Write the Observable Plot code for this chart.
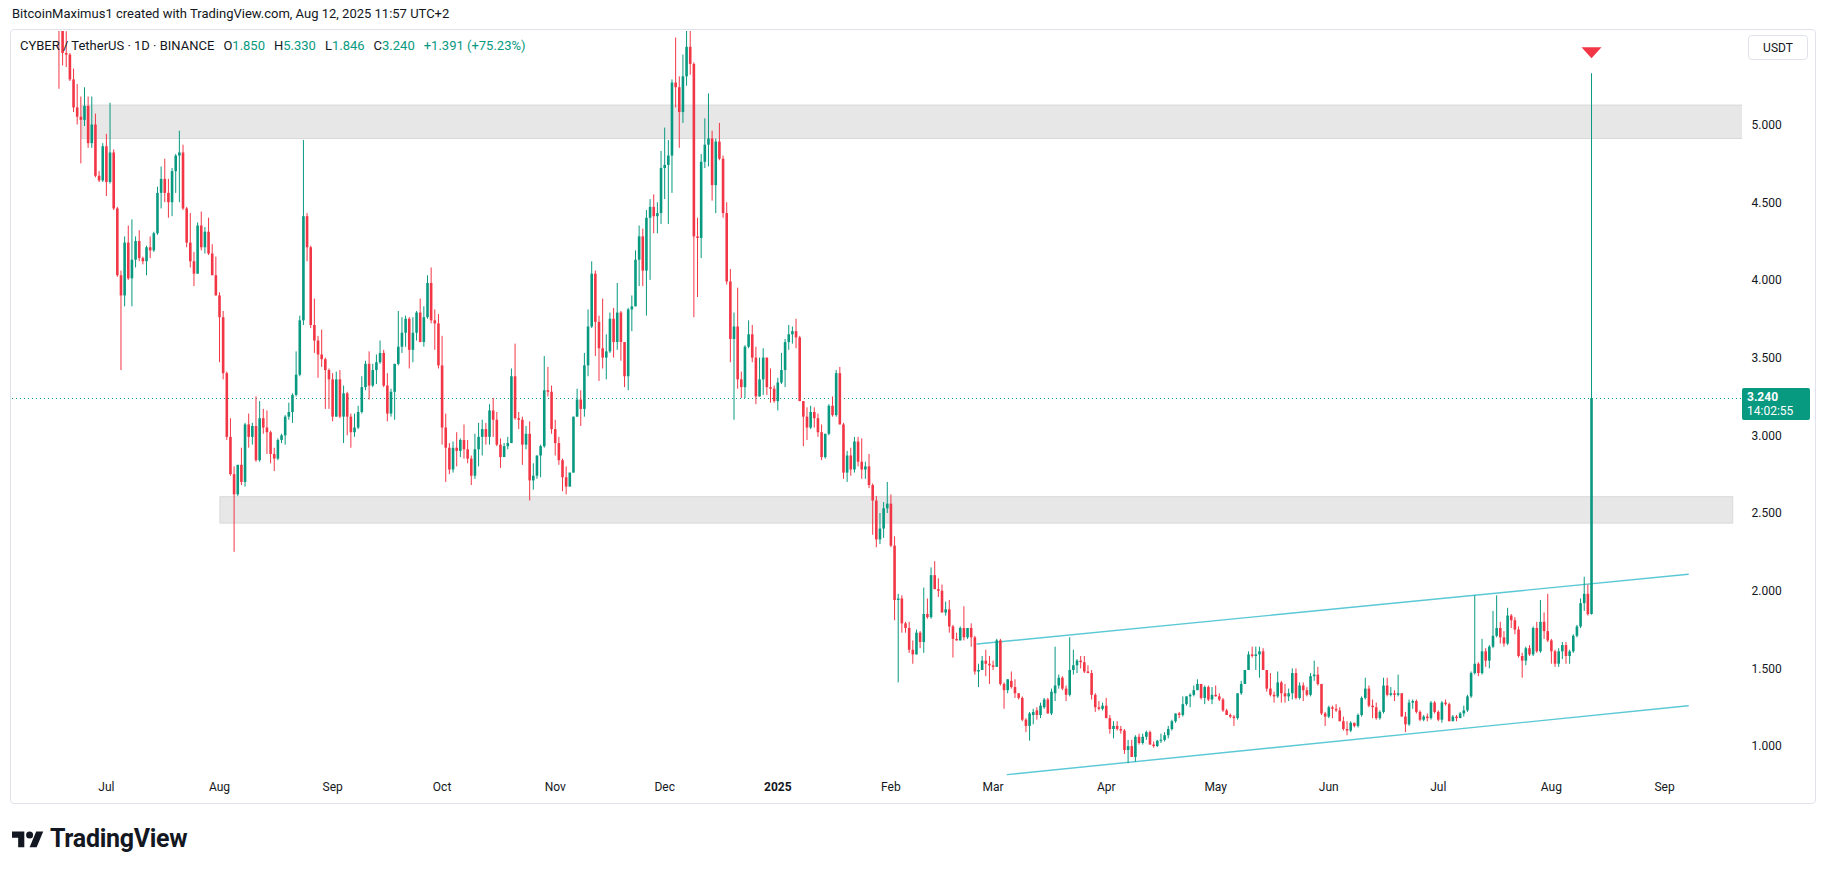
<!DOCTYPE html>
<html><head><meta charset="utf-8">
<script src="https://cdn.jsdelivr.net/npm/d3@7"></script>
<script src="https://cdn.jsdelivr.net/npm/@observablehq/plot@0.6"></script>
<style>
body{margin:0;background:#fff;font-family:Roboto,"Noto Sans",sans-serif;color:#131722;}
#wrap{position:relative;width:1825px;height:871px;overflow:hidden;background:#fff;}
#chart{position:absolute;left:0;top:0;}
.ov{position:absolute;white-space:nowrap;}
#pane{left:10px;top:29px;width:1804px;height:773px;border:1px solid #e0e3eb;border-radius:4px;pointer-events:none;}
#credit{left:12px;top:6px;font-size:13px;}
#legend{left:20px;top:38px;font-size:13px;}
#legend .v{color:#089981;}
#legend .g{margin-left:9px;}
#usdt{left:1748px;top:35px;width:60px;height:25px;border:1px solid #e0e3eb;border-radius:4px;font-size:12px;text-align:center;line-height:25px;box-sizing:border-box;}
#plabel{left:1742px;width:68px;background:#089981;color:#fff;font-size:12px;border-radius:2px;padding:2px 0 2px 5px;box-sizing:border-box;line-height:14px;}
#logo{left:12px;top:825px;}
</style></head><body>
<div id="wrap">
  <div id="chart"></div>
  <div id="pane" class="ov"></div>
  <div id="credit" class="ov">BitcoinMaximus1 created with TradingView.com, Aug 12, 2025 11:57 UTC+2</div>
  <div id="legend" class="ov">CYBER / TetherUS · 1D · BINANCE<span class="g">O<span class="v">1.850</span></span><span class="g">H<span class="v">5.330</span></span><span class="g">L<span class="v">1.846</span></span><span class="g">C<span class="v">3.240</span></span><span class="g v">+1.391 (+75.23%)</span></div>
  <div id="usdt" class="ov">USDT</div>
  <div id="plabel" class="ov"><b>3.240</b><br>14:02:55</div>
  <div id="logo" class="ov">
    <svg width="210" height="28" viewBox="0 0 210 28">
      <g transform="translate(0,3) scale(0.88)" fill="#131722">
        <path d="M14 22H7V11H0V4h14v18z"/>
        <circle cx="20" cy="8" r="4"/>
        <path d="M28 22h-8l7.5-18h8L28 22z"/>
      </g>
      <text x="38" y="22" font-family="Roboto, sans-serif" font-weight="700" font-size="25" fill="#131722" letter-spacing="-0.3">TradingView</text>
    </svg>
  </div>
</div>
<script>
// ---- data (daily candles, CYBER/USDT, Binance) ----
const startDate = "2024-06-18";
const opens = [
6.00,5.72,5.46,5.45,5.29,5.11,5.05,5.03,5.12,4.88,
5.00,4.67,4.64,4.86,4.63,4.82,4.46,4.03,3.90,4.24,
4.01,4.13,4.25,4.14,4.12,4.21,4.19,4.30,4.56,4.65,
4.56,4.50,4.70,4.80,4.82,4.46,4.24,4.12,4.04,4.35,
4.21,4.31,4.17,4.03,3.90,3.76,3.40,2.99,2.75,2.62,
2.81,2.70,3.07,2.99,3.06,2.84,3.11,3.05,3.02,2.88,
2.85,2.97,3.00,3.12,3.15,3.26,3.39,3.74,4.41,4.21,
3.71,3.61,3.52,3.49,3.42,3.36,3.12,3.36,3.12,3.27,
3.12,3.02,3.05,3.15,3.31,3.46,3.32,3.42,3.47,3.53,
3.32,3.14,3.28,3.46,3.57,3.66,3.75,3.55,3.66,3.79,
3.60,3.76,3.98,3.74,3.72,3.45,3.05,2.92,2.78,2.92,
2.90,2.97,2.91,2.85,2.74,2.91,2.99,3.04,2.99,3.16,
3.10,2.94,2.86,2.93,2.95,3.38,3.11,3.10,2.94,3.01,
2.71,2.74,2.87,2.93,3.29,3.28,3.04,2.95,2.84,2.73,
2.67,2.76,3.12,3.23,3.17,3.45,3.70,4.04,3.73,3.56,
3.50,3.54,3.75,3.60,3.79,3.60,3.38,3.81,3.83,4.13,
4.28,4.06,4.40,4.47,4.41,4.43,4.72,4.74,4.80,5.27,
5.24,5.08,5.31,5.50,5.39,4.28,4.27,4.76,4.87,4.91,
4.61,4.89,4.78,4.43,3.99,3.62,3.70,3.36,3.31,3.57,
3.65,3.50,3.25,3.36,3.50,3.31,3.30,3.22,3.34,3.42,
3.60,3.65,3.67,3.63,3.22,3.12,3.05,3.15,3.11,3.02,
2.86,3.01,3.19,3.13,3.40,3.07,2.76,2.87,2.78,2.96,
2.83,2.78,2.80,2.68,2.58,2.33,2.40,2.53,2.56,2.29,
1.94,1.95,1.79,1.76,1.62,1.59,1.73,1.67,1.85,1.83,
2.10,2.01,2.00,1.86,1.88,1.77,1.69,1.68,1.76,1.70,
1.76,1.70,1.48,1.49,1.55,1.53,1.52,1.51,1.68,1.40,
1.36,1.42,1.38,1.34,1.31,1.17,1.13,1.20,1.23,1.20,
1.25,1.30,1.21,1.34,1.39,1.44,1.37,1.33,1.49,1.52,
1.55,1.54,1.48,1.47,1.33,1.25,1.24,1.26,1.18,1.11,
1.13,1.11,1.10,0.975,1.00,0.93,1.06,1.02,1.06,1.09,
1.01,1.00,1.035,1.04,1.07,1.11,1.16,1.21,1.20,1.27,
1.32,1.33,1.36,1.40,1.31,1.38,1.30,1.33,1.32,1.30,
1.23,1.20,1.19,1.18,1.34,1.40,1.49,1.59,1.58,1.59,
1.61,1.49,1.37,1.33,1.32,1.41,1.34,1.32,1.34,1.47,
1.31,1.39,1.36,1.33,1.45,1.46,1.40,1.21,1.19,1.25,
1.24,1.23,1.16,1.11,1.10,1.15,1.13,1.20,1.31,1.37,
1.26,1.25,1.18,1.22,1.39,1.33,1.34,1.33,1.34,1.19,
1.14,1.28,1.29,1.22,1.17,1.19,1.18,1.28,1.22,1.17,
1.28,1.27,1.16,1.19,1.18,1.21,1.23,1.32,1.47,1.53,
1.47,1.61,1.55,1.64,1.71,1.76,1.70,1.66,1.84,1.81,
1.75,1.58,1.55,1.63,1.59,1.76,1.61,1.80,1.74,1.68,
1.61,1.53,1.61,1.65,1.58,1.61,1.71,1.77,1.92,1.98,
1.850];
const highs = [
6.10,5.80,5.60,5.46,5.36,5.26,5.18,5.24,5.18,5.18,
5.07,4.70,4.88,4.94,5.14,4.84,4.47,4.06,4.28,4.35,
4.39,4.28,4.32,4.15,4.22,4.28,4.31,4.60,4.73,4.78,
4.65,4.72,4.81,4.96,4.87,4.47,4.43,4.18,4.37,4.44,
4.34,4.40,4.23,4.15,3.92,3.80,3.41,3.11,2.80,2.81,
2.92,3.08,3.14,3.08,3.25,3.22,3.17,3.16,3.03,2.92,
2.98,3.01,3.13,3.21,3.27,3.54,3.77,4.90,4.43,4.22,
3.88,3.64,3.68,3.50,3.43,3.40,3.41,3.42,3.32,3.28,
3.14,3.14,3.19,3.38,3.48,3.54,3.46,3.52,3.61,3.55,
3.40,3.30,3.46,3.80,3.76,3.77,3.76,3.76,3.80,3.88,
3.83,4.03,4.08,3.81,3.78,3.64,3.14,2.95,2.96,3.02,
2.98,3.07,2.97,2.87,3.01,3.08,3.10,3.08,3.20,3.24,
3.15,2.98,2.95,2.99,3.43,3.59,3.15,3.12,3.06,3.09,
2.82,2.87,2.94,3.51,3.44,3.32,3.10,2.99,2.85,2.80,
2.76,3.12,3.30,3.29,3.53,3.81,4.12,4.06,3.77,3.88,
3.65,3.79,3.82,3.98,3.80,3.60,3.82,3.90,4.19,4.35,
4.33,4.45,4.52,4.55,4.50,4.83,4.98,4.90,5.29,5.56,
5.31,5.45,5.70,5.75,5.40,4.40,4.81,5.04,5.20,4.96,
4.91,5.01,4.80,4.50,4.07,3.79,3.95,3.41,3.58,3.74,
3.71,3.57,3.50,3.56,3.50,3.43,3.32,3.37,3.53,3.62,
3.71,3.70,3.75,3.64,3.22,3.18,3.19,3.18,3.14,3.07,
3.01,3.20,3.25,3.42,3.44,3.08,2.90,2.92,2.99,2.99,
2.98,2.83,2.88,2.69,2.61,2.50,2.57,2.70,2.62,2.35,
1.98,1.97,1.80,1.80,1.68,1.75,1.74,2.02,1.95,2.15,
2.19,2.08,2.04,1.93,1.94,1.78,1.73,1.77,1.90,1.76,
1.79,1.71,1.53,1.58,1.62,1.58,1.55,1.69,1.69,1.41,
1.43,1.48,1.43,1.34,1.32,1.18,1.22,1.24,1.25,1.28,
1.31,1.31,1.37,1.64,1.46,1.45,1.39,1.70,1.62,1.56,
1.58,1.58,1.52,1.49,1.34,1.29,1.28,1.31,1.20,1.16,
1.16,1.13,1.11,1.04,1.04,1.07,1.08,1.08,1.10,1.10,
1.03,1.04,1.08,1.09,1.13,1.17,1.21,1.22,1.32,1.32,
1.34,1.39,1.43,1.40,1.39,1.39,1.38,1.39,1.34,1.31,
1.24,1.21,1.20,1.34,1.42,1.49,1.61,1.64,1.64,1.64,
1.63,1.49,1.47,1.35,1.48,1.42,1.40,1.37,1.50,1.50,
1.41,1.41,1.38,1.47,1.55,1.51,1.40,1.22,1.26,1.26,
1.27,1.25,1.19,1.16,1.16,1.15,1.21,1.32,1.44,1.39,
1.30,1.28,1.23,1.44,1.44,1.38,1.36,1.46,1.34,1.22,
1.30,1.30,1.30,1.23,1.20,1.21,1.29,1.29,1.23,1.29,
1.30,1.28,1.20,1.20,1.22,1.26,1.33,1.48,1.97,1.54,
1.69,1.63,1.65,1.87,1.97,1.80,1.74,1.89,1.85,1.83,
1.77,1.60,1.64,1.65,1.77,1.80,1.94,1.86,1.98,1.69,
1.62,1.63,1.67,1.67,1.62,1.72,1.78,1.95,2.09,2.04,
5.330];
const lows = [
5.23,5.38,5.37,5.28,5.08,5.00,4.75,4.99,4.85,4.85,
4.66,4.63,4.63,4.54,4.62,4.45,4.02,3.42,3.83,4.00,
3.83,4.08,4.12,4.10,4.03,4.14,4.18,4.29,4.46,4.50,
4.40,4.41,4.56,4.50,4.45,4.21,4.08,3.96,4.04,4.19,
4.17,4.16,4.03,3.90,3.47,3.36,2.97,2.74,2.25,2.61,
2.68,2.67,2.92,2.94,2.83,2.83,3.01,2.88,2.82,2.77,
2.84,2.95,2.94,3.10,3.08,3.25,3.38,3.71,4.12,3.69,
3.53,3.37,3.44,3.17,3.17,3.09,3.12,3.11,2.95,3.00,
2.92,2.99,3.04,3.14,3.29,3.23,3.31,3.33,3.46,3.31,
3.09,3.12,3.10,3.45,3.53,3.57,3.43,3.47,3.61,3.60,
3.57,3.75,3.72,3.55,3.43,2.94,2.70,2.75,2.76,2.80,
2.86,2.85,2.82,2.68,2.72,2.80,2.87,2.94,2.94,2.99,
2.93,2.79,2.86,2.91,2.95,3.10,3.04,2.81,2.91,2.58,
2.65,2.72,2.73,2.92,3.25,3.01,2.87,2.81,2.64,2.62,
2.67,2.76,3.12,3.06,3.12,3.38,3.69,3.51,3.35,3.43,
3.36,3.53,3.50,3.55,3.48,3.31,3.29,3.67,3.83,3.96,
3.96,3.77,4.00,4.30,4.30,4.36,4.52,4.36,4.56,5.11,
4.85,5.01,5.25,5.32,3.76,3.89,4.14,4.72,4.73,4.51,
4.43,4.77,4.40,3.97,3.47,3.10,3.30,3.24,3.24,3.56,
3.47,3.20,3.25,3.26,3.26,3.21,3.21,3.16,3.33,3.31,
3.55,3.59,3.56,3.22,2.93,2.97,3.04,3.05,2.99,2.84,
2.85,3.00,3.12,3.12,3.07,2.72,2.70,2.74,2.76,2.80,
2.72,2.72,2.66,2.36,2.28,2.30,2.34,2.50,2.28,1.81,
1.41,1.73,1.73,1.60,1.53,1.59,1.63,1.60,1.82,1.82,
2.01,1.96,1.86,1.84,1.73,1.57,1.68,1.68,1.68,1.69,
1.64,1.46,1.38,1.49,1.45,1.40,1.49,1.51,1.39,1.24,
1.34,1.37,1.31,1.30,1.16,1.09,1.035,1.14,1.17,1.18,
1.24,1.21,1.20,1.29,1.37,1.36,1.29,1.32,1.46,1.47,
1.50,1.47,1.47,1.30,1.22,1.23,1.23,1.18,1.08,1.05,
1.10,1.08,0.95,0.89,0.93,0.90,1.01,1.01,1.04,1.01,
0.99,0.995,1.02,1.03,1.05,1.10,1.15,1.18,1.19,1.26,
1.25,1.32,1.36,1.30,1.27,1.29,1.27,1.32,1.29,1.22,
1.20,1.18,1.13,1.17,1.33,1.40,1.49,1.57,1.49,1.44,
1.49,1.35,1.32,1.28,1.31,1.28,1.28,1.29,1.30,1.30,
1.30,1.29,1.32,1.32,1.42,1.39,1.20,1.13,1.18,1.18,
1.22,1.16,1.10,1.07,1.09,1.12,1.12,1.19,1.30,1.25,
1.18,1.17,1.17,1.21,1.32,1.32,1.29,1.32,1.19,1.09,
1.13,1.24,1.21,1.16,1.16,1.16,1.17,1.21,1.16,1.15,
1.26,1.16,1.16,1.16,1.18,1.19,1.22,1.31,1.46,1.45,
1.46,1.51,1.50,1.63,1.70,1.66,1.64,1.65,1.76,1.72,
1.57,1.44,1.52,1.58,1.58,1.60,1.60,1.69,1.67,1.53,
1.51,1.51,1.56,1.53,1.53,1.60,1.70,1.76,1.87,1.84,
1.846];
const closes = [
5.72,5.46,5.45,5.29,5.11,5.05,5.03,5.12,4.88,5.00,
4.67,4.64,4.86,4.63,4.82,4.46,4.03,3.90,4.24,4.01,
4.13,4.25,4.14,4.12,4.21,4.19,4.30,4.56,4.65,4.56,
4.50,4.70,4.80,4.82,4.46,4.24,4.12,4.04,4.35,4.21,
4.31,4.17,4.03,3.90,3.76,3.40,2.99,2.75,2.62,2.81,
2.70,3.07,2.99,3.06,2.84,3.11,3.05,3.02,2.88,2.85,
2.97,3.00,3.12,3.15,3.26,3.39,3.74,4.41,4.21,3.71,
3.61,3.52,3.49,3.42,3.36,3.12,3.36,3.12,3.27,3.12,
3.02,3.05,3.15,3.31,3.46,3.32,3.42,3.47,3.53,3.32,
3.14,3.28,3.46,3.57,3.66,3.75,3.55,3.66,3.79,3.60,
3.76,3.98,3.74,3.72,3.45,3.05,2.92,2.78,2.92,2.90,
2.97,2.91,2.85,2.74,2.91,2.99,3.04,2.99,3.16,3.10,
2.94,2.86,2.93,2.95,3.38,3.11,3.10,2.94,3.01,2.71,
2.74,2.87,2.93,3.29,3.28,3.04,2.95,2.84,2.73,2.67,
2.76,3.12,3.23,3.17,3.45,3.70,4.04,3.73,3.56,3.50,
3.54,3.75,3.60,3.79,3.60,3.38,3.81,3.83,4.13,4.28,
4.06,4.40,4.47,4.41,4.43,4.72,4.74,4.80,5.27,5.24,
5.08,5.31,5.50,5.39,4.28,4.27,4.76,4.87,4.91,4.61,
4.89,4.78,4.43,3.99,3.62,3.70,3.36,3.31,3.57,3.65,
3.50,3.25,3.36,3.50,3.31,3.30,3.22,3.34,3.42,3.60,
3.65,3.67,3.63,3.22,3.12,3.05,3.15,3.11,3.02,2.86,
3.01,3.19,3.13,3.40,3.07,2.76,2.87,2.78,2.96,2.83,
2.78,2.80,2.68,2.58,2.33,2.40,2.53,2.56,2.29,1.94,
1.95,1.79,1.76,1.62,1.59,1.73,1.67,1.85,1.83,2.10,
2.01,2.00,1.86,1.88,1.77,1.69,1.68,1.76,1.70,1.76,
1.70,1.48,1.49,1.55,1.53,1.52,1.51,1.68,1.40,1.36,
1.43,1.38,1.34,1.31,1.17,1.13,1.21,1.22,1.20,1.26,
1.30,1.21,1.35,1.39,1.44,1.37,1.33,1.49,1.52,1.55,
1.54,1.48,1.47,1.33,1.25,1.24,1.26,1.18,1.11,1.13,
1.11,1.10,0.975,1.00,0.93,1.06,1.02,1.06,1.09,1.01,
1.00,1.035,1.04,1.07,1.11,1.16,1.21,1.20,1.27,1.32,
1.33,1.36,1.40,1.31,1.38,1.30,1.33,1.32,1.30,1.23,
1.20,1.19,1.18,1.34,1.40,1.49,1.59,1.58,1.59,1.61,
1.49,1.37,1.33,1.32,1.41,1.34,1.32,1.34,1.47,1.31,
1.39,1.36,1.33,1.45,1.46,1.40,1.21,1.19,1.25,1.24,
1.23,1.16,1.11,1.10,1.15,1.13,1.20,1.31,1.37,1.26,
1.25,1.18,1.22,1.39,1.33,1.34,1.33,1.34,1.19,1.14,
1.28,1.29,1.22,1.17,1.19,1.18,1.28,1.22,1.17,1.28,
1.27,1.16,1.19,1.18,1.21,1.23,1.32,1.47,1.53,1.47,
1.61,1.55,1.64,1.71,1.76,1.70,1.66,1.84,1.81,1.75,
1.58,1.55,1.63,1.59,1.76,1.61,1.80,1.74,1.68,1.61,
1.53,1.61,1.65,1.58,1.61,1.71,1.77,1.92,1.98,1.849,
3.240];

// axis ticks / labels
const monthTicks = ["2024-07-01","2024-08-01","2024-09-01","2024-10-01","2024-11-01","2024-12-01","2025-01-01","2025-02-01","2025-03-01","2025-04-01","2025-05-01","2025-06-01","2025-07-01","2025-08-01","2025-09-01"];
const monthLabels = ["Jul","Aug","Sep","Oct","Nov","Dec","2025","Feb","Mar","Apr","May","Jun","Jul","Aug","Sep"];
const priceTicks = [1,1.5,2,2.5,3,3.5,4,4.5,5];

// drawn zones (support / resistance)
const zoneStart = ["2024-06-24T10:00Z","2024-08-01T06:00Z"];
const zoneEnd   = ["2025-10-05T00:00Z","2025-09-19T20:00Z"];
const zoneLow   = [4.91, 2.435];
const zoneHigh  = [5.125, 2.605];

// drawn channel trend lines
const upperDates = ["2025-02-24T14:00Z","2025-09-07T12:00Z"];
const upperPrices = [1.660, 2.109];
const lowerDates = ["2025-03-04T22:00Z","2025-09-07T12:00Z"];
const lowerPrices = [0.820, 1.263];

const lastPrice = 3.240;

// ---- build ----
const GREEN = "#089981", RED = "#f23645";
const t0 = new Date(startDate + "T00:00Z");
const candles = opens.map((o, i) => ({
  date: d3.utcDay.offset(t0, i), open: o, high: highs[i], low: lows[i], close: closes[i]
}));
const zones = zoneStart.map((s, i) => ({x1: new Date(s), x2: new Date(zoneEnd[i]), y1: zoneLow[i], y2: zoneHigh[i]}));
const upper = upperDates.map((d, i) => ({date: new Date(d), price: upperPrices[i]}));
const lower = lowerDates.map((d, i) => ({date: new Date(d), price: lowerPrices[i]}));
const months = monthTicks.map((t, i) => ({date: new Date(t + "T00:00Z"), label: monthLabels[i]}));
const col = d => d.close >= d.open ? GREEN : RED;
const bodyLo = d => Math.abs(d.open - d.close) < 0.007 ? (d.open + d.close) / 2 - 0.0035 : d.open;
const bodyHi = d => Math.abs(d.open - d.close) < 0.007 ? (d.open + d.close) / 2 + 0.0035 : d.close;
const flatTriangle = {draw(ctx) { ctx.moveTo(-10, -5.5); ctx.lineTo(10, -5.5); ctx.lineTo(0, 5.5); ctx.closePath(); }};

const chart = Plot.plot({
  width: 1825, height: 871,
  marginLeft: 12, marginRight: 83, marginTop: 31, marginBottom: 94,
  style: {background: "transparent", fontFamily: "Roboto, 'Noto Sans', sans-serif", fontSize: "12px", color: "#131722"},
  x: {type: "utc", domain: [new Date("2024-06-05T06:30Z"), new Date("2025-09-22T09:00Z")], axis: null},
  y: {domain: [0.8012, 5.6017]},
  color: {type: "identity"},
  marks: [
    Plot.rect(zones, {x1: "x1", x2: "x2", y1: "y1", y2: "y2", fill: "#e7e7e7", stroke: "#d9d9d9", strokeWidth: 1, clip: true}),
    Plot.ruleY([lastPrice], {stroke: GREEN, strokeDasharray: "1,3", strokeWidth: 1}),
    Plot.line(upper, {x: "date", y: "price", stroke: "#5bc8d6", strokeWidth: 1.4}),
    Plot.line(lower, {x: "date", y: "price", stroke: "#5bc8d6", strokeWidth: 1.4}),
    Plot.ruleX(candles, {x: "date", y1: "low", y2: "high", stroke: col, strokeWidth: 1, clip: true}),
    Plot.ruleX(candles, {x: "date", y1: bodyLo, y2: bodyHi, stroke: col, strokeWidth: 2.6, clip: true}),
    Plot.dot(candles.slice(-1), {x: "date", y: "high", dy: -21, symbol: flatTriangle, r: 5, fill: RED, stroke: null}),
    Plot.axisY(priceTicks, {anchor: "right", tickSize: 0, tickPadding: 9, tickFormat: d3.format(".3f"), label: null, fontSize: 12, fill: "#131722"}),
    Plot.text(months, {x: "date", text: "label", frameAnchor: "bottom", dy: 13, fontSize: 12, fill: "#131722", filter: d => d.label !== "2025"}),
    Plot.text(months, {x: "date", text: "label", frameAnchor: "bottom", dy: 13, fontSize: 12, fontWeight: "bold", fill: "#131722", filter: d => d.label === "2025"})
  ]
});
document.getElementById("chart").appendChild(chart);
const yLast = chart.scale("y").apply(lastPrice);
document.getElementById("plabel").style.top = (yLast - 10) + "px";
</script>
</body></html>
